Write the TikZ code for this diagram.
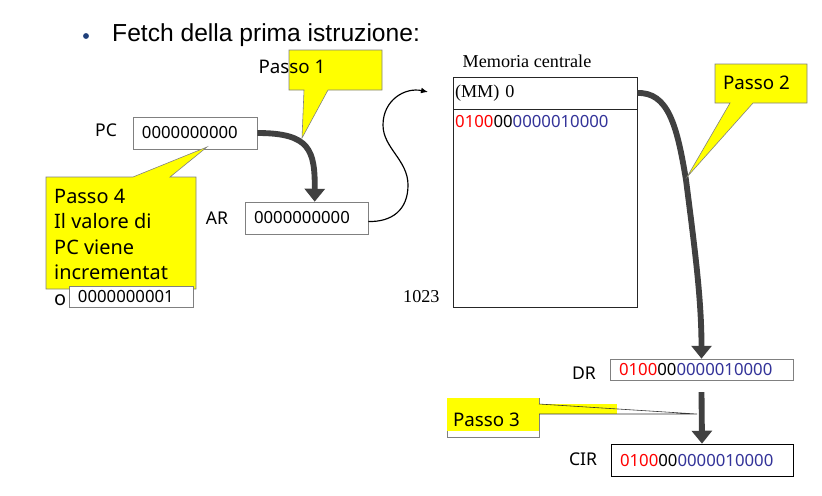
\documentclass[tikz,border=0pt]{standalone}
\usepackage{fontspec}
\setmainfont{Liberation Serif}
\setsansfont{Noto Sans}
\newfontfamily\titlefont{Liberation Sans}
\usetikzlibrary{arrows.meta,calc,positioning}
\definecolor{ftyellow}{HTML}{FFFF00}
\definecolor{ftarrow}{HTML}{404040}
\definecolor{ftframe}{HTML}{808080}
\definecolor{ftred}{HTML}{FF0000}
\definecolor{ftblue}{HTML}{333399}
\definecolor{ftbullet}{HTML}{1F3F7A}
\newcommand{\opword}{\textcolor{ftred}{0100}00\textcolor{ftblue}{0000010000}}
\tikzset{
  register/.style={draw=ftframe,fill=white,line width=.6pt,inner xsep=.27cm,inner ysep=0pt,align=left,font=\fontsize{14.3}{16}\sffamily},
  reglabel/.style={font=\fontsize{15}{17}\sffamily,inner sep=0pt},
  memcell/.style={draw=black!85,line width=.6pt,minimum width=5.52cm},
  memtext/.style={font=\fontsize{15.5}{17}\selectfont,inner sep=0pt},
  callout/.style={draw=ftframe,fill=ftyellow,line width=.5pt},
  calltext/.style={font=\fontsize{16}{21.7}\sffamily,inner sep=0pt,align=left},
  bus/.style={draw=ftarrow,line width=5pt,-{Triangle[length=11pt,width=17pt]}},
  wire/.style={draw=black,line width=1pt,-{Latex[length=6pt,width=5pt]}},
}

\begin{document}
\begin{tikzpicture}[x=0.03cm,y=-0.03cm]
  \useasboundingbox (0,0) rectangle (822,495);
  % title
  \node[circle,fill=ftbullet,inner sep=0pt,minimum size=5pt] (bullet) at (86,36) {};
  \node[anchor=west,inner sep=0pt,font=\titlefont\fontsize{21}{24}\selectfont] (title) at (112,35) {Fetch della prima istruzione:};
  % registers
  \node[register,text width=3.18cm,minimum height=.96cm] (pc) at (195,133) {0000000000};
  \node[register,text width=3.15cm,minimum height=.96cm] (ar) at (306.5,218) {0000000000};
  \node[register,text width=4.95cm,minimum height=.63cm] (dr) at (701.5,369.5) {\opword};
  \node[register,draw=black,text width=4.92cm,minimum height=.96cm] (cir) at (702,460) {\opword};
  \node[reglabel] (pclab) at (106,130) {PC};
  \node[reglabel] (arlab) at (217,218) {AR};
  \node[reglabel] (drlab) at (584,373) {DR};
  \node[reglabel] (cirlab) at (583,459) {CIR};
  % central memory
  \node[memtext] (memtitle) at (527,61) {Memoria centrale};
  \node[memcell,memtext,minimum height=.96cm,text width=5.4cm,inner xsep=.06cm,align=left] (memhead) at (545,93) {(MM)~0};
  \node[memcell,minimum height=5.94cm,anchor=north] (membody) at (memhead.south) {};
  \node[anchor=north west,inner sep=0pt,font=\fontsize{14.3}{16}\sffamily] (memword) at ([xshift=2pt,yshift=-5pt]membody.north west) {\opword};
  \node[memtext,anchor=east] (memlast) at ([xshift=-11pt,yshift=10pt]membody.south west) {1023};
  % transfers
  \coordinate (memin) at (428,92);
  \draw[bus] (pc.east) .. controls (310,133) and (315,150) .. ([xshift=7pt]ar.north);
  \draw[wire] ([yshift=-3pt]ar.east) .. controls (392,222) and (408,210) .. (408,185)
    .. controls (408,160) and (383,148) .. (383,125) .. controls (383,100) and (405,87) .. (memin);
  \draw[bus] (memhead.east) .. controls (668,92) and (677,125) .. (686,180)
    .. controls (695,250) and (701.5,300) .. (dr.north);
  \draw[bus] ([yshift=-10pt]dr.south) -- (cir.north);
  % Passo 1
  \draw[callout] (289,50) -- (382,50) -- (382,90) -- (328,90) -- (302,138) -- (304,90) -- (289,90) -- cycle;
  \node[calltext] (stepone) at (292,67) {Passo 1};
  % Passo 2
  \draw[callout] (715,64) -- (807,64) -- (807,103) -- (753,103) -- (687,177) -- (730,103) -- (715,103) -- cycle;
  \node[calltext] (steptwo) at (756.5,83) {Passo 2};
  % Passo 3
  \coordinate (tipthree) at (697,414);
  \filldraw[draw=ftframe,fill=white,line width=.5pt] (447,398) rectangle (539,437);
  \fill[ftyellow] (447,398) rectangle (539,431);
  \fill[ftyellow] (539,404) rectangle (617,414);
  \draw[black!80,line width=.5pt] (539,404) -- (tipthree) -- (539,414);
  \node[calltext] (stepthree) at (486.5,420) {Passo 3};
  % Passo 4
  \draw[callout] (46,177) -- (133,177) -- (207,147) -- (170,177) -- (196,177) -- (196,289) -- (46,289) -- cycle;
  \node[calltext,anchor=north west,font=\fontsize{17}{21.7}\sffamily] (stepfour) at (54,189) {Passo 4\\Il valore di\\PC viene\\incrementat\\o};
  \node[register,text width=3.18cm,minimum height=.63cm] (pcnext) at (131,296.5) {0000000001};
\end{tikzpicture}
\end{document}
